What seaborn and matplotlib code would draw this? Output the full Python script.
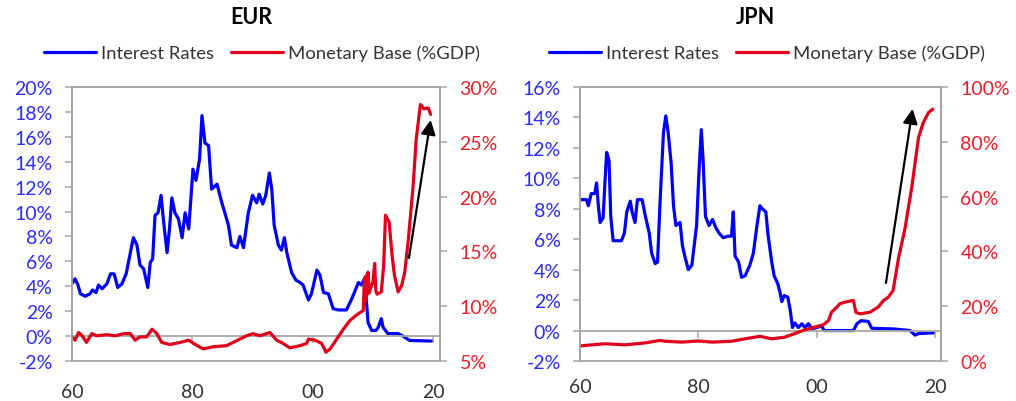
import matplotlib
matplotlib.use("Agg")
import matplotlib.pyplot as plt
import seaborn as sns
import pandas as pd
from matplotlib.lines import Line2D

# ---------------- DATA ----------------
eur_rate_year = [1960, 1960.5, 1961, 1961.4, 1962.2, 1963, 1963.4, 1964, 1964.4, 1965, 1965.8, 1966.4, 1967,
                 1967.6, 1968.3, 1969, 1969.7, 1970.2, 1970.8, 1971.3, 1971.9, 1972.6, 1973, 1973.4, 1973.8,
                 1974.3, 1974.8, 1975.2, 1975.8, 1976.2, 1976.6, 1977.1, 1977.7, 1978.3, 1978.8, 1979.4,
                 1980.1, 1980.6, 1981.2, 1981.6, 1982.1, 1982.7, 1983.2, 1984.1, 1984.9, 1985.4, 1986,
                 1986.5, 1987.4, 1987.9, 1988.5, 1989.3, 1990, 1990.7, 1991.1, 1991.7, 1992.2, 1992.8,
                 1993.2, 1993.6, 1994.3, 1994.8, 1995.3, 1995.7, 1996.5, 1997.2, 1997.9, 1998.4, 1999.3,
                 1999.8, 2000.7, 2001.2, 2001.8, 2002.6, 2003.4, 2004.2, 2005.6, 2006.5, 2007.6, 2008.1,
                 2008.5, 2008.9, 2009.2, 2009.8, 2010.5, 2010.9, 2011.4, 2011.7, 2012.5, 2014.2, 2015,
                 2016.1, 2019.7]
eur_rate = [4.2, 4.6, 4.1, 3.4, 3.2, 3.4, 3.7, 3.5, 4.1, 3.8, 4.2, 5.0, 5.0,
            3.9, 4.2, 5.0, 6.7, 7.9, 7.3, 5.7, 5.4, 3.9, 5.9, 6.2, 9.7,
            9.9, 11.3, 9.3, 6.7, 8.6, 11.1, 9.9, 9.4, 7.9, 9.9, 8.6,
            13.4, 12.5, 14.2, 17.7, 15.5, 15.3, 11.8, 12.2, 10.7, 9.9, 8.9,
            7.3, 7.1, 8.0, 7.1, 9.9, 11.3, 10.7, 11.4, 10.6, 11.3, 13.1,
            11.8, 8.9, 7.3, 6.9, 7.9, 6.7, 5.1, 4.5, 4.3, 4.1, 2.9,
            3.4, 5.3, 4.9, 3.5, 3.4, 2.2, 2.1, 2.1, 3.0, 4.3, 4.1,
            4.5, 3.0, 1.1, 0.45, 0.45, 0.7, 1.4, 0.7, 0.2, 0.2, 0.0,
            -0.35, -0.4]

eur_mb_year = [1960, 1960.5, 1961.1, 1961.7, 1962.4, 1963.3, 1964.1, 1965.8, 1967.2, 1968.6, 1969.7, 1970.5,
               1971.3, 1972.4, 1973.3, 1974.1, 1974.9, 1976.3, 1978, 1979.4, 1980.2, 1981.8, 1983.5, 1985.7,
               1986.8, 1987.9, 1989, 1990.1, 1991.2, 1992.9, 1994, 1995.1, 1996.2, 1997.9, 1999, 1999.3,
               2000.4, 2001.5, 2002.2, 2002.9, 2004, 2005.1, 2006.2, 2007.3, 2008.4, 2008.6, 2008.8,
               2008.9, 2009, 2009.2, 2009.4, 2009.6, 2010, 2010.3, 2010.5, 2010.7, 2011.4, 2011.8,
               2012.1, 2012.7, 2013.2, 2013.6, 2014.2, 2014.8, 2015.3, 2015.9, 2016.7, 2017.2, 2017.9,
               2018.5, 2019.2, 2019.6]
eur_mb = [7.2, 6.9, 7.6, 7.3, 6.7, 7.5, 7.3, 7.4, 7.3, 7.5, 7.5, 6.9,
          7.2, 7.2, 7.9, 7.5, 6.7, 6.5, 6.7, 6.9, 6.6, 6.1, 6.3, 6.4,
          6.7, 7.0, 7.3, 7.5, 7.3, 7.6, 6.9, 6.6, 6.2, 6.4, 6.6, 7.0,
          6.9, 6.6, 5.8, 6.1, 7.0, 7.9, 8.7, 9.2, 9.6, 12.6, 10.4,
          12.8, 11.0, 13.1, 11.2, 11.6, 12.2, 13.9, 11.4, 11.1, 11.3, 13.7,
          18.3, 17.7, 14.6, 12.8, 11.3, 11.9, 13.1, 16.1, 21.0, 25.2, 28.4,
          28.0, 28.1, 27.5]

jpn_rate_year = [1960, 1961.1, 1961.4, 1961.9, 1962.5, 1962.8, 1963.1, 1963.4, 1963.9, 1964.2, 1964.5, 1964.9,
                 1965.2, 1965.6, 1967, 1967.5, 1967.9, 1968.5, 1968.8, 1969.3, 1969.7, 1970.5, 1971, 1971.7,
                 1972.1, 1972.7, 1973.1, 1973.5, 1974.1, 1974.5, 1974.9, 1975.4, 1975.8, 1976.2, 1976.9,
                 1977.3, 1977.7, 1978.3, 1978.9, 1979.7, 1980.1, 1980.5, 1980.8, 1981.2, 1981.8, 1982.4,
                 1982.9, 1983.5, 1984.2, 1985, 1985.6, 1985.9, 1986.2, 1986.8, 1987.3, 1987.9, 1988.7,
                 1989.3, 1989.9, 1990.4, 1990.8, 1991.4, 1991.8, 1992.4, 1992.8, 1993.4, 1993.8, 1994.1,
                 1994.5, 1995.1, 1995.5, 1995.9, 1996.3, 1996.9, 1997.5, 1998, 1998.6, 1999.2, 2000,
                 2000.8, 2001.3, 2006.2, 2006.8, 2007.5, 2008.7, 2009.3, 2013.2, 2015.8, 2016.6, 2017.2,
                 2019.7]
jpn_rate = [8.6, 8.6, 8.2, 9.0, 9.0, 9.7, 8.2, 7.1, 7.4, 9.6, 11.7, 11.2,
            7.5, 5.9, 5.9, 6.4, 7.8, 8.5, 7.8, 7.1, 8.6, 8.6, 7.6, 6.4,
            5.1, 4.4, 4.5, 8.2, 13.0, 14.1, 13.0, 11.0, 8.2, 6.9, 7.1,
            5.6, 4.9, 4.0, 4.3, 6.9, 10.4, 13.2, 11.2, 7.5, 6.9, 7.3,
            6.8, 6.4, 6.1, 6.2, 6.2, 7.8, 4.9, 4.5, 3.5, 3.6, 4.3,
            5.1, 6.9, 8.2, 8.0, 7.8, 6.2, 4.5, 3.6, 3.1, 2.5, 1.9,
            2.3, 2.2, 1.4, 0.2, 0.5, 0.2, 0.45, 0.2, 0.45, 0.1, 0.2,
            0.3, 0.0, 0.0, 0.45, 0.65, 0.6, 0.15, 0.1, 0.0, -0.3, -0.2,
            -0.15]

jpn_mb_year = [1960, 1964.2, 1967.6, 1971, 1973.5, 1974.4, 1977.2, 1980, 1982.3, 1985.6, 1987.9, 1990.4,
               1992.4, 1994.6, 1996.3, 1998, 1999.7, 2001.1, 2002, 2002.5, 2003.4, 2003.9, 2004.8, 2006.2,
               2006.6, 2007.3, 2009, 2010.4, 2011.3, 2012.1, 2012.9, 2013.8, 2014.9, 2016.1, 2017.2,
               2018, 2018.9, 2019.6]
jpn_mb = [5.5, 6.3, 5.9, 6.6, 7.5, 7.2, 6.9, 7.3, 6.9, 7.2, 8.1, 9.0,
          8.1, 8.7, 10.0, 11.4, 12.4, 13.2, 14.8, 17.8, 19.7, 20.9, 21.5, 22.1,
          17.8, 17.2, 17.8, 19.7, 22.1, 23.3, 25.7, 37.3, 48.2, 64.0, 81.6,
          87.0, 90.7, 91.9]

x_ticks = [1960, 1980, 2000, 2020]
x_ticklabels = ["60", "80", "00", "20"]
eur_left_ticks = [-2, 0, 2, 4, 6, 8, 10, 12, 14, 16, 18, 20]
eur_right_ticks = [5, 10, 15, 20, 25, 30]
jpn_left_ticks = [-2, 0, 2, 4, 6, 8, 10, 12, 14, 16]
jpn_right_ticks = [0, 20, 40, 60, 80, 100]
eur_arrow = [(2016.0, 14.4), (2019.6, 27.0)]
jpn_arrow = [(2011.7, 28.5), (2016.2, 92.0)]
legend_labels = ["Interest Rates", "Monetary Base (%GDP)"]

# ---------------- STYLE ----------------
sns.set_theme(style="white")
plt.rcParams['font.family'] = ['Lato', 'DejaVu Sans']

BLUE = "#0000ff"
RED = "#e0001b"
BLUE_TXT = "#2b2bff"
RED_TXT = "#e8202a"
GRAY = "#a6a6a6"

fig = plt.figure(figsize=(10.16, 4.02), dpi=100)


def panel(rect, title, ry, r, my, m, lticks, rticks, xlim_right, arrow, legend_cx):
    ax = fig.add_axes(rect)
    ax2 = ax.twinx()
    df_r = pd.DataFrame({"year": ry, "val": r})
    df_m = pd.DataFrame({"year": my, "val": m})
    sns.lineplot(data=df_r, x="year", y="val", ax=ax, color=BLUE, lw=2.3, sort=False, estimator=None)
    sns.lineplot(data=df_m, x="year", y="val", ax=ax2, color=RED, lw=2.3, sort=False, estimator=None)
    ax.set_xlim(1960, xlim_right)
    ax.set_ylim(lticks[0], lticks[-1])
    ax2.set_ylim(rticks[0], rticks[-1])
    ax.set_yticks(lticks)
    ax.set_yticklabels([f"{t}%" for t in lticks])
    ax2.set_yticks(rticks)
    ax2.set_yticklabels([f"{t}%" for t in rticks])
    ax.set_xticks(x_ticks)
    ax.set_xticklabels(x_ticklabels)
    ax.set_xlabel("")
    ax.set_ylabel("")
    ax2.set_ylabel("")
    for a in (ax, ax2):
        for s in a.spines.values():
            s.set_color(GRAY)
            s.set_linewidth(1.3)
    ax.spines['bottom'].set_position(('data', 0))
    ax2.spines['bottom'].set_visible(False)
    # bottom frame line of plot area
    ax.plot([0, 1], [0, 0], transform=ax.transAxes, color=GRAY, lw=1.3, clip_on=False)
    ax.tick_params(axis='y', which='both', direction='out', length=5, width=1.1, color=GRAY,
                   labelcolor=BLUE_TXT, labelsize=14, pad=9, left=True)
    ax2.tick_params(axis='y', which='both', direction='out', length=5, width=1.1, color=GRAY,
                    labelcolor=RED_TXT, labelsize=14, pad=9, right=True)
    ax.tick_params(axis='x', direction='out', length=5, width=1.1, color=GRAY,
                   labelcolor="#333333", labelsize=14, pad=29, bottom=True)
    ax2.annotate("", xy=arrow[1], xytext=arrow[0],
                 arrowprops=dict(arrowstyle="-|>", color="black", lw=1.6, mutation_scale=22,
                                 shrinkA=0, shrinkB=0))
    fig.text(rect[0] + rect[2] / 2 - 0.005, 1 - 17 / 402, title, ha="center", va="center",
             fontsize=15.5, fontweight="bold", color="black")
    handles = [Line2D([], [], color=BLUE, lw=2.3), Line2D([], [], color=RED, lw=2.3)]
    fig.legend(handles, legend_labels, loc="center", bbox_to_anchor=(legend_cx, 1 - 54 / 402),
               ncol=2, frameon=False, fontsize=13.3, handlelength=2.8, handletextpad=0.3,
               columnspacing=0.9, labelcolor="#333333", borderaxespad=0, borderpad=0)
    return ax, ax2


panel([72 / 1016, 40 / 402, 368 / 1016, 274 / 402], "EUR", eur_rate_year, eur_rate, eur_mb_year, eur_mb,
      eur_left_ticks, eur_right_ticks, 2021.16, eur_arrow, 262 / 1016)
panel([580 / 1016, 40 / 402, 361 / 1016, 274 / 402], "JPN", jpn_rate_year, jpn_rate, jpn_mb_year, jpn_mb,
      jpn_left_ticks, jpn_right_ticks, 2021.0, jpn_arrow, 767 / 1016)

fig.savefig("out.png", dpi=100)
